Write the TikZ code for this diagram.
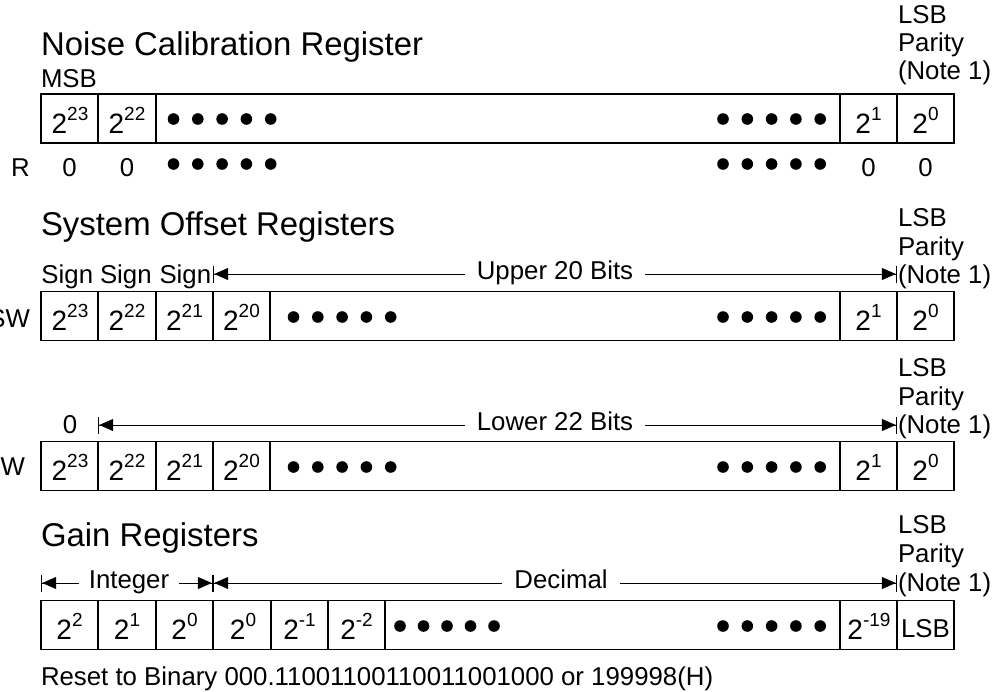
\documentclass[tikz,border=0pt]{standalone}
\usepackage{fontspec}
\setmainfont{Liberation Sans}
\usetikzlibrary{arrows.meta}
\newcommand\pw[1]{{\fontsize{28}{30}\selectfont 2\raisebox{12.5pt}{\fontsize{19}{19}\selectfont #1}}}
\tikzset{
  every node/.style={font=\fontsize{25.8}{29}\selectfont, inner sep=0pt, outer sep=0pt},
  cell/.style={draw, line width=1.3pt, minimum height=49pt, minimum width=57pt},
  lbl/.style={anchor=base west},
  ttl/.style={anchor=base west, font=\fontsize{32.9}{36}\selectfont},
  ctr/.style={anchor=base},
  dimarrow/.style={line width=1pt,
    {Bar[width=17pt,line width=1.2pt]Triangle[length=14pt,width=12pt,sep=0pt]}-{Triangle[length=14pt,width=12pt,sep=0pt]Bar[width=17pt,line width=1.2pt]}},
  gap/.style={fill=white, inner xsep=12pt, inner ysep=2pt, anchor=center},
}
\begin{document}
\begin{tikzpicture}[x=1pt,y=-1pt]
\path[use as bounding box] (0,0) rectangle (996,691);

% ---------------- Noise Calibration Register ----------------
\node[ttl] (t1) at (41,55) {Noise Calibration Register};
\node[lbl] (msb) at (41,87) {MSB};
\node[lbl] (lsb1) at (898,23) {LSB};
\node[lbl] (par1) at (898,51) {Parity};
\node[lbl] (note1) at (898,79) {(Note 1)};
\node[cell] (a23) at (69.5,118.5) {};
\node[cell] (a22) at (127,118.5) {};
\node[cell, minimum width=684pt] (amid) at (498,118.5) {};
\node[cell] (a1) at (868.5,118.5) {};
\node[cell] (a0) at (925.5,118.5) {};
\node[ctr] (a23t) at (70,133) {\pw{23}};
\node[ctr] (a22t) at (127,133) {\pw{22}};
\node[ctr] (a1t) at (868.5,133) {\pw{1}};
\node[ctr] (a0t) at (925.5,133) {\pw{0}};
\node[lbl] (rlab) at (11,176) {R};
\node[ctr] (r23) at (69.5,176) {0};
\node[ctr] (r22) at (127,176) {0};
\node[ctr] (r1) at (868.5,176) {0};
\node[ctr] (r0) at (925.5,176) {0};
\foreach \y in {119,164}{
  \foreach \i in {0,...,4}{
    \fill (173.5+24.3*\i,\y) circle (5.8pt);
    \fill (723+24.3*\i,\y) circle (5.8pt);
  }
}

% ---------------- System Offset Registers ----------------
\node[ttl] (t2) at (41,235) {System Offset Registers};
\node[lbl] (s1) at (41.5,283) {Sign};
\node[lbl] (s2) at (100,283) {Sign};
\node[lbl] (s3) at (159.5,283) {Sign};
\node[lbl] (lsb2) at (898,226) {LSB};
\node[lbl] (par2) at (898,255) {Parity};
\node[lbl] (note2) at (898,283) {(Note 1)};
\coordinate (u0) at (213,274);
\coordinate (u1) at (897,274);
\draw[dimarrow] (u0) -- (u1);
\node[gap] (ut) at (555,274) {\strut Upper 20 Bits};
\node[anchor=base east] (swlab) at (30,327) {SW};
\node[cell] (b23) at (69.5,316) {};
\node[cell] (b22) at (127,316) {};
\node[cell] (b21) at (184.5,316) {};
\node[cell] (b20) at (241.5,316) {};
\node[cell, minimum width=570pt] (bmid) at (555,316) {};
\node[cell] (b1) at (868.5,316) {};
\node[cell] (b0) at (925.5,316) {};
\node[ctr] (b23t) at (70,330) {\pw{23}};
\node[ctr] (b22t) at (127,330) {\pw{22}};
\node[ctr] (b21t) at (184.5,330) {\pw{21}};
\node[ctr] (b20t) at (241.5,330) {\pw{20}};
\node[ctr] (b1t) at (868.5,330) {\pw{1}};
\node[ctr] (b0t) at (925.5,330) {\pw{0}};
\foreach \i in {0,...,4}{
  \fill (293.5+24.3*\i,317) circle (5.8pt);
  \fill (723+24.3*\i,317) circle (5.8pt);
}

% ---------------- second offset register ----------------
\node[lbl] (lsb3) at (898,376) {LSB};
\node[lbl] (par3) at (898,405) {Parity};
\node[lbl] (note3) at (898,433) {(Note 1)};
\node[ctr] (z0) at (70,433) {0};
\coordinate (l0) at (98,425);
\coordinate (l1) at (897,425);
\draw[dimarrow] (l0) -- (l1);
\node[gap] (lt) at (555,425) {\strut Lower 22 Bits};
\node[anchor=base east] (wlab) at (25,475) {W};
\node[cell] (c23) at (69.5,466) {};
\node[cell] (c22) at (127,466) {};
\node[cell] (c21) at (184.5,466) {};
\node[cell] (c20) at (241.5,466) {};
\node[cell, minimum width=570pt] (cmid) at (555,466) {};
\node[cell] (c1) at (868.5,466) {};
\node[cell] (c0) at (925.5,466) {};
\node[ctr] (c23t) at (70,480) {\pw{23}};
\node[ctr] (c22t) at (127,480) {\pw{22}};
\node[ctr] (c21t) at (184.5,480) {\pw{21}};
\node[ctr] (c20t) at (241.5,480) {\pw{20}};
\node[ctr] (c1t) at (868.5,480) {\pw{1}};
\node[ctr] (c0t) at (925.5,480) {\pw{0}};
\foreach \i in {0,...,4}{
  \fill (293.5+24.3*\i,467) circle (5.8pt);
  \fill (723+24.3*\i,467) circle (5.8pt);
}

% ---------------- Gain Registers ----------------
\node[ttl] (t3) at (41,546) {Gain Registers};
\node[lbl] (lsb4) at (898,533) {LSB};
\node[lbl] (par4) at (898,562) {Parity};
\node[lbl] (note4) at (898,591) {(Note 1)};
\coordinate (g0) at (41,583);
\coordinate (g1) at (213,583);
\coordinate (g2) at (897,583);
\draw[dimarrow] (g0) -- (g1);
\draw[dimarrow] (g1) -- (g2);
\node[gap, inner xsep=10pt] (it) at (129,583) {\strut Integer};
\node[gap] (dt) at (561,583) {\strut Decimal};
\node[cell] (d2) at (69.5,625) {};
\node[cell] (d1) at (127,625) {};
\node[cell] (d0) at (184.5,625) {};
\node[cell] (e0) at (242,625) {};
\node[cell] (e1) at (299.5,625) {};
\node[cell] (e2) at (356.5,625) {};
\node[cell, minimum width=455pt] (dmid) at (612.5,625) {};
\node[cell] (e19) at (868.5,625) {};
\node[cell] (elsb) at (925.5,625) {};
\node[ctr] (d2t) at (69.5,639) {\pw{2}};
\node[ctr] (d1t) at (127,639) {\pw{1}};
\node[ctr] (d0t) at (184.5,639) {\pw{0}};
\node[ctr] (e0t) at (243,639) {\pw{0}};
\node[ctr] (e1t) at (299.5,639) {\pw{-1}};
\node[ctr] (e2t) at (356.5,639) {\pw{-2}};
\node[ctr] (e19t) at (869,639) {\pw{-19}};
\node[ctr] (elsbt) at (925.5,637) {LSB};
\foreach \i in {0,...,4}{
  \fill (400+23.5*\i,626) circle (5.8pt);
  \fill (723+24.3*\i,626) circle (5.8pt);
}
\node[lbl] (reset) at (41,685) {Reset to Binary 000.11001100110011001000 or 199998(H)};
\end{tikzpicture}
\end{document}
